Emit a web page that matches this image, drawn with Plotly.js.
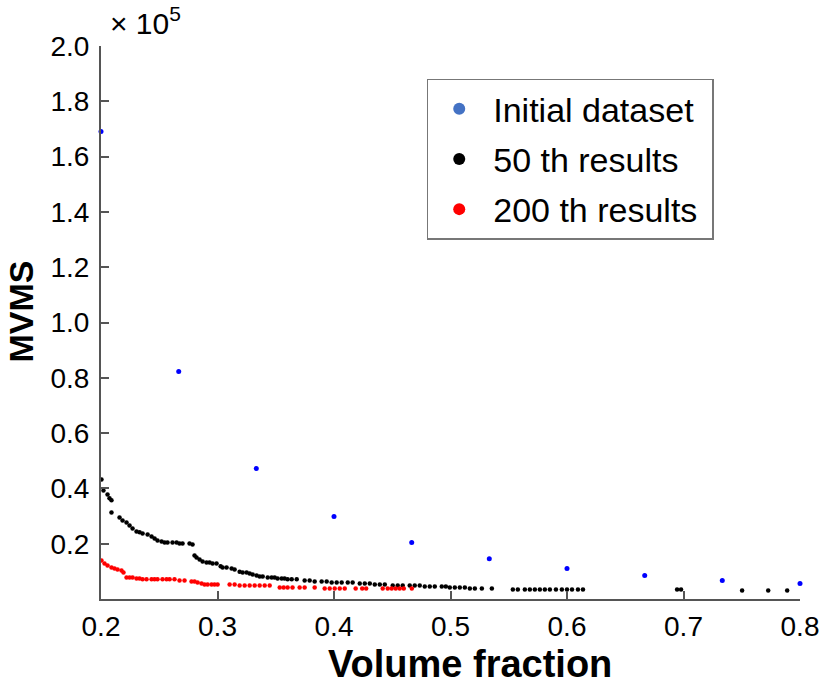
<!DOCTYPE html>
<html>
<head>
<meta charset="utf-8">
<script src="https://cdn.plot.ly/plotly-3.0.1.min.js"></script>
<style>
html,body{margin:0;padding:0;background:#fff;}
#chart{width:826px;height:684px;}
</style>
</head>
<body>
<div id="chart"></div>
<script>
// values in units of 1e5
const initialX = [0.2, 0.2667, 0.3333, 0.4, 0.4667, 0.5333, 0.6, 0.6667, 0.7333, 0.8];
const initialY = [1.691, 0.823, 0.472, 0.298, 0.204, 0.146, 0.110, 0.085, 0.067, 0.056];

const res50X = [0.2004,0.2021,0.2056,0.2073,0.209,0.209,0.2159,0.2185,0.2219,0.2245,0.2271,0.2305,0.2331,0.2357,0.24,0.2434,0.246,0.2485,0.252,0.2546,0.2571,0.2614,0.2649,0.2674,0.27,0.276,0.2786,0.2803,0.282,0.2846,0.2872,0.2906,0.2932,0.2958,0.2992,0.3027,0.3044,0.3078,0.3121,0.3147,0.319,0.3216,0.325,0.3276,0.3302,0.3336,0.3362,0.3388,0.3431,0.3465,0.3491,0.3516,0.3551,0.3576,0.3602,0.3637,0.368,0.3748,0.3791,0.3834,0.3894,0.3937,0.398,0.4023,0.4066,0.4118,0.416,0.4221,0.4264,0.4307,0.435,0.4393,0.4436,0.4504,0.4547,0.459,0.465,0.4693,0.4736,0.4779,0.4822,0.4865,0.4925,0.496,0.4994,0.5037,0.508,0.5123,0.5166,0.5209,0.5269,0.5355,0.5535,0.5578,0.5638,0.5681,0.5724,0.5767,0.581,0.5853,0.5905,0.5956,0.6,0.6043,0.6094,0.6137,0.6945,0.6979,0.7503,0.7727,0.789];
const res50Y = [0.432,0.392,0.378,0.364,0.357,0.313,0.295,0.284,0.277,0.266,0.255,0.244,0.241,0.237,0.233,0.226,0.219,0.212,0.208,0.204,0.204,0.204,0.204,0.201,0.201,0.201,0.197,0.157,0.150,0.143,0.136,0.132,0.132,0.128,0.128,0.118,0.114,0.114,0.110,0.107,0.099,0.096,0.096,0.092,0.089,0.085,0.081,0.081,0.078,0.078,0.078,0.074,0.074,0.074,0.071,0.071,0.071,0.067,0.067,0.063,0.063,0.063,0.060,0.060,0.060,0.060,0.060,0.056,0.056,0.056,0.052,0.052,0.052,0.049,0.049,0.049,0.049,0.049,0.049,0.045,0.045,0.045,0.045,0.045,0.042,0.042,0.042,0.042,0.038,0.038,0.038,0.038,0.034,0.034,0.034,0.034,0.034,0.034,0.034,0.034,0.034,0.034,0.034,0.034,0.034,0.034,0.034,0.034,0.031,0.031,0.031];

const res200X = [0.2004,0.203,0.2056,0.209,0.2116,0.2142,0.2176,0.2193,0.2219,0.2245,0.2271,0.2305,0.2331,0.2357,0.2391,0.2434,0.246,0.2485,0.2528,0.2563,0.2589,0.2631,0.2674,0.2717,0.2777,0.2803,0.2829,0.2863,0.2889,0.2915,0.2949,0.2975,0.3001,0.3104,0.3147,0.319,0.3233,0.3276,0.3319,0.3362,0.3405,0.3448,0.3534,0.3568,0.3602,0.3644,0.3705,0.3748,0.3834,0.392,0.3963,0.4006,0.4049,0.4092,0.4186,0.4242,0.4276,0.4418,0.4461,0.4495,0.453,0.4564,0.4599,0.4668];
const res200Y = [0.139,0.128,0.121,0.114,0.110,0.107,0.103,0.096,0.078,0.078,0.078,0.074,0.074,0.071,0.071,0.071,0.071,0.071,0.071,0.071,0.071,0.071,0.067,0.067,0.063,0.063,0.060,0.056,0.052,0.052,0.052,0.052,0.052,0.052,0.052,0.049,0.049,0.049,0.049,0.049,0.049,0.049,0.042,0.042,0.042,0.042,0.042,0.042,0.042,0.038,0.038,0.038,0.038,0.038,0.038,0.038,0.038,0.038,0.038,0.038,0.038,0.038,0.038,0.038];

const seriesNames = ["Initial dataset", "50 th results", "200 th results&nbsp;"];
const xTicks = [0.2, 0.3, 0.4, 0.5, 0.6, 0.7, 0.8];
const yTicks = [0.2, 0.4, 0.6, 0.8, 1.0, 1.2, 1.4, 1.6, 1.8, 2.0];
const xTitle = "Volume fraction";
const yTitle = "MVMS";

const FONT = "Arial, 'Liberation Sans', sans-serif";
const axisColor = "#555555";

const traces = [
  {x: res50X, y: res50Y, type: "scatter", mode: "markers", showlegend: false, cliponaxis: false,
   marker: {color: "#000000", size: 4.5}},
  {x: res200X, y: res200Y, type: "scatter", mode: "markers", showlegend: false, cliponaxis: false,
   marker: {color: "#ff0000", size: 4.5}},
  {x: initialX, y: initialY, type: "scatter", mode: "markers", showlegend: false, cliponaxis: false,
   marker: {color: "#0000ff", size: 5}},
  // legend entries
  {x: [null], y: [null], type: "scatter", mode: "markers", name: seriesNames[0], legendgroup: "a",
   marker: {color: "#4472c4", size: 12}},
  {x: [null], y: [null], type: "scatter", mode: "markers", name: seriesNames[1], legendgroup: "b",
   marker: {color: "#000000", size: 12}},
  {x: [null], y: [null], type: "scatter", mode: "markers", name: seriesNames[2], legendgroup: "c",
   marker: {color: "#ff0000", size: 12}}
];

const layout = {
  width: 826, height: 684,
  margin: {l: 101, r: 26, t: 46, b: 85},
  paper_bgcolor: "#ffffff", plot_bgcolor: "#ffffff",
  font: {family: FONT, color: "#000000", size: 28},
  showlegend: true,
  legend: {
    x: 0.466, y: 0.941, xanchor: "left", yanchor: "top",
    bordercolor: "#777777", borderwidth: 1.5, bgcolor: "#ffffff",
    font: {family: FONT, size: 34, color: "#000000"},
    tracegroupgap: 3, indentation: -3, itemwidth: 58
  },
  xaxis: {
    range: [0.2, 0.8], tickvals: xTicks, tickformat: ".1f",
    showgrid: false, zeroline: false, showline: true, linecolor: axisColor, linewidth: 2,
    ticks: "inside", ticklen: 8, tickwidth: 2, tickcolor: axisColor,
    tickfont: {family: FONT, size: 28, color: "#000"},
    ticklabelstandoff: 1
  },
  yaxis: {
    range: [0, 2.0], tickvals: yTicks, tickformat: ".1f",
    showgrid: false, zeroline: false, showline: true, linecolor: axisColor, linewidth: 2,
    ticks: "inside", ticklen: 8, tickwidth: 2, tickcolor: axisColor,
    tickfont: {family: FONT, size: 28, color: "#000"},
    ticklabelstandoff: 4
  },
  annotations: [
    {xref: "paper", yref: "paper", x: 0.01, y: 1.046, xanchor: "left", yanchor: "middle",
     text: "× 10<sup>5</sup>", showarrow: false, font: {family: FONT, size: 30, color: "#000"}},
    {xref: "paper", yref: "paper", x: 0.528, y: (598.5 - 663) / 553, xanchor: "center", yanchor: "middle",
     text: "<b>" + xTitle + "</b>", showarrow: false, font: {family: FONT, size: 38, color: "#000"}},
    {xref: "paper", yref: "paper", x: (20 - 101) / 699, y: (598.5 - 311) / 553, xanchor: "center", yanchor: "middle",
     text: "<b>" + yTitle + "</b>", textangle: -90, showarrow: false, font: {family: FONT, size: 34, color: "#000"}}
  ]
};

Plotly.newPlot("chart", traces, layout, {displayModeBar: false, staticPlot: true});
</script>
</body>
</html>
